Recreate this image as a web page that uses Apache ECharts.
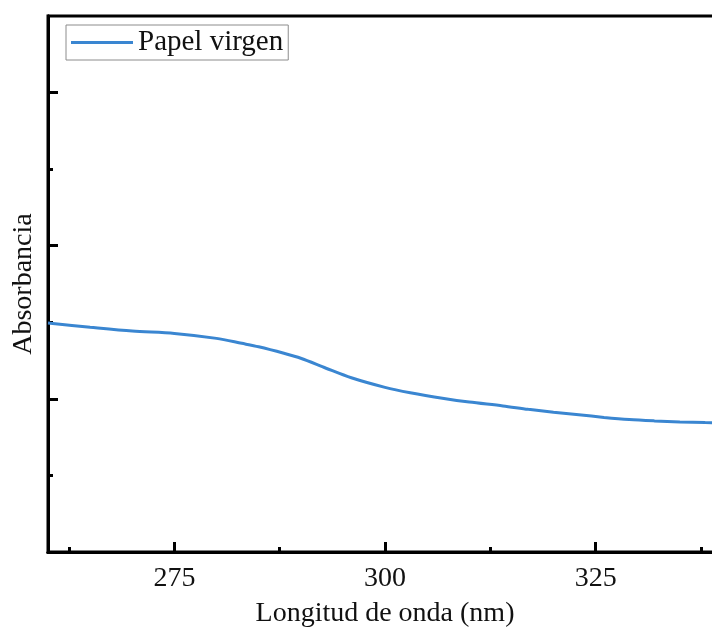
<!DOCTYPE html>
<html>
<head>
<meta charset="utf-8">
<script src="https://cdn.jsdelivr.net/npm/echarts@6/dist/echarts.min.js"></script>
<style>
  html, body { margin: 0; padding: 0; background: #fff; }
  #chart { width: 712px; height: 632px; }
</style>
</head>
<body>
<div id="chart"></div>
<script>
// UV absorbance spectrum of virgin paper
const wavelength = [260, 265, 270, 275, 280, 283, 285, 288, 290, 293, 296, 300, 303, 307, 310, 314, 317, 320, 323, 326, 329, 332, 335, 338, 340];
const absorbance = [0.299, 0.2935, 0.2885, 0.2855, 0.279, 0.2725, 0.268, 0.2595, 0.253, 0.240, 0.2275, 0.215, 0.208, 0.2005, 0.1958, 0.1908, 0.1863, 0.1825, 0.1792, 0.1758, 0.173, 0.1712, 0.1698, 0.169, 0.1688];
const seriesName = 'Papel virgen';

const xMajorTicks = [275, 300, 325];
const xMinorTicks = [262.5, 287.5, 312.5, 337.5];
const yMajorTicks = [0.2, 0.4, 0.6];
const yMinorTicks = [0.1, 0.3, 0.5];

const xRange = [260, 340];
const yRange = [0, 0.7];

const serif = '"Liberation Serif", "DejaVu Serif", serif';
const ink = '#000';
const lineBlue = '#3a86d1';

const chart = echarts.init(document.getElementById('chart'), null, { renderer: 'canvas' });

const xBase = {
  type: 'value', min: xRange[0], max: xRange[1], position: 'bottom',
  splitLine: { show: false },
  axisLine: { show: true, lineStyle: { color: ink, width: 3 } }
};
const yBase = {
  type: 'value', min: yRange[0], max: yRange[1], position: 'left',
  splitLine: { show: false },
  axisLine: { show: true, lineStyle: { color: ink, width: 3 } },
  axisLabel: { show: false }
};

chart.setOption({
  animation: false,
  backgroundColor: '#fff',
  grid: {
    left: 48, top: 16, width: 674, height: 536,
    containLabel: false, outerBoundsMode: 'none',
    show: true, borderColor: ink, borderWidth: 3
  },
  legend: {
    left: 66, top: 25,
    data: [seriesName],
    icon: 'rect',
    itemWidth: 62, itemHeight: 3, itemGap: 6,
    padding: [3, 5, 3, 5],
    borderColor: '#8c8c8c', borderWidth: 1,
    textStyle: { fontFamily: serif, fontSize: 29, color: '#111' }
  },
  xAxis: [
    Object.assign({}, xBase, {
      name: 'Longitud de onda (nm)',
      nameLocation: 'middle', nameGap: 48,
      nameTextStyle: { fontFamily: serif, fontSize: 28, color: '#111' },
      axisTick: { show: true, inside: true, length: 10, lineStyle: { color: ink, width: 3 }, customValues: xMajorTicks },
      axisLabel: { show: true, margin: 13, fontFamily: serif, fontSize: 28, color: '#111', customValues: xMajorTicks }
    }),
    Object.assign({}, xBase, {
      axisTick: { show: true, inside: true, length: 5, lineStyle: { color: ink, width: 3 }, customValues: xMinorTicks },
      axisLabel: { show: false }
    })
  ],
  yAxis: [
    Object.assign({}, yBase, {
      name: 'Absorbancia',
      nameLocation: 'middle', nameGap: 10,
      nameTextStyle: { fontFamily: serif, fontSize: 28, color: '#111' },
      axisTick: { show: true, inside: true, length: 10, lineStyle: { color: ink, width: 3 }, customValues: yMajorTicks }
    }),
    Object.assign({}, yBase, {
      axisTick: { show: true, inside: true, length: 5, lineStyle: { color: ink, width: 3 }, customValues: yMinorTicks }
    })
  ],
  series: [{
    name: seriesName,
    type: 'line',
    xAxisIndex: 0, yAxisIndex: 0,
    data: wavelength.map((w, i) => [w, absorbance[i]]),
    smooth: 0.3,
    symbol: 'none',
    lineStyle: { color: lineBlue, width: 3 },
    itemStyle: { color: lineBlue }
  }]
});
</script>
</body>
</html>
